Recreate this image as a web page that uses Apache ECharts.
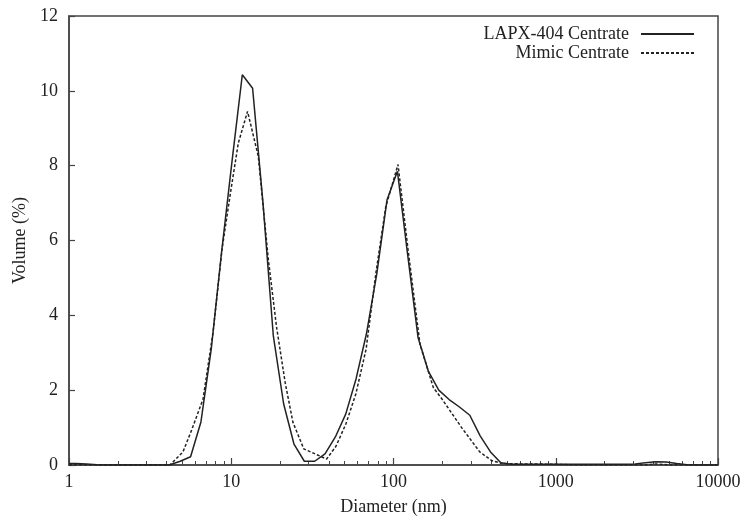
<!DOCTYPE html>
<html>
<head>
<meta charset="utf-8">
<script src="https://cdn.jsdelivr.net/npm/echarts@6/dist/echarts.min.js"></script>
<style>html,body{margin:0;padding:0;background:#fff;}#c{width:745px;height:521px;}</style>
</head>
<body>
<div id="c"></div>
<script>
// Diameter (nm) and Volume (%) for LAPX-404 Centrate (solid)
const lapxDiameter = [1.0, 1.106, 1.281, 1.484, 1.718, 4.145, 4.849, 5.615, 6.503, 7.531, 8.721, 10.1, 11.7, 13.54, 15.69, 18.17, 21.04, 24.36, 28.21, 32.67, 37.84, 43.82, 50.75, 58.77, 68.06, 78.82, 91.28, 105.7, 122.4, 141.8, 164.2, 190.1, 220.2, 255.0, 295.3, 342.0, 396.1, 458.7, 531.2, 1000, 2669, 3091, 3580, 4145, 4801, 5560, 6439, 7456, 10000];
const lapxVolume   = [0.04, 0.04, 0.03, 0.01, 0.0, 0.0, 0.1, 0.22, 1.15, 3.1, 5.7, 8.1, 10.43, 10.07, 7.0, 3.45, 1.63, 0.56, 0.1, 0.1, 0.3, 0.75, 1.36, 2.3, 3.5, 5.1, 7.09, 7.85, 5.6, 3.4, 2.5, 2.0, 1.75, 1.55, 1.33, 0.78, 0.35, 0.06, 0.02, 0.02, 0.02, 0.03, 0.06, 0.09, 0.08, 0.04, 0.01, 0.0, 0.0];
// Diameter (nm) and Volume (%) for Mimic Centrate (dashed)
const mimicDiameter = [1.0, 4.19, 5.04, 5.73, 6.7, 7.72, 8.77, 9.83, 11.05, 12.6, 14.68, 16.92, 19.0, 21.5, 24.0, 28.0, 38.7, 44.2, 50.9, 58.6, 67.8, 78.3, 89.6, 106.6, 122.9, 145.6, 176.0, 200.0, 263.0, 340.0, 402.0, 465.0, 600.0, 1000, 1300, 3500, 4200, 5000, 10000];
const mimicVolume   = [0.0, 0.0, 0.35, 0.96, 1.76, 3.54, 5.76, 7.2, 8.6, 9.45, 8.25, 5.5, 3.7, 2.2, 1.14, 0.43, 0.16, 0.5, 1.1, 1.9, 3.1, 5.2, 6.9, 8.03, 5.76, 3.23, 2.07, 1.75, 1.0, 0.35, 0.12, 0.04, 0.03, 0.02, 0.0, 0.0, 0.03, 0.0, 0.0];
const seriesNames = ['LAPX-404 Centrate', 'Mimic Centrate'];
const xMajorTicks = [1, 10, 100, 1000, 10000];
const xMinorTicks = [2,3,4,5,6,7,8,9, 20,30,40,50,60,70,80,90, 200,300,400,500,600,700,800,900, 2000,3000,4000,5000,6000,7000,8000,9000];
const yTicks = [0, 2, 4, 6, 8, 10, 12];

const FONT = "'Liberation Serif', 'Times New Roman', serif";
const INK = '#222';
const AX = '#444';

const pairs = (xs, ys) => xs.map((x, i) => [x, ys[i]]);

const legendCommon = {
  right: 50, padding: 0, align: 'right', orient: 'vertical', itemWidth: 53, itemHeight: 12, selectedMode: false,
  itemStyle: {opacity: 0, color: 'transparent', borderWidth: 0},
  textStyle: {fontFamily: FONT, fontSize: 18, color: INK, padding: [0, 7, 0, 0]}
};

const chart = echarts.init(document.getElementById('c'), null, {renderer: 'canvas'});
chart.setOption({
  backgroundColor: '#fff',
  animation: false,
  textStyle: {fontFamily: FONT, color: INK},
  grid: {left: 69, right: 27, top: 16, bottom: 55, show: true, borderColor: AX, borderWidth: 1.5, backgroundColor: 'transparent'},
  legend: [
    Object.assign({}, legendCommon, {data: [seriesNames[0]], top: 25}),
    Object.assign({}, legendCommon, {data: [seriesNames[1]], top: 44})
  ],
  xAxis: [
    {type: 'log', logBase: 10, min: 1, max: 10000, position: 'bottom',
     name: 'Diameter (nm)', nameLocation: 'middle', nameGap: 33,
     nameTextStyle: {fontFamily: FONT, fontSize: 18, color: INK},
     axisLine: {show: true, lineStyle: {color: AX, width: 1.5}},
     axisTick: {show: true, inside: true, length: 7, lineStyle: {color: AX, width: 1.2}, customValues: xMajorTicks},
     axisLabel: {fontFamily: FONT, fontSize: 18, color: INK, margin: 8, customValues: xMajorTicks, formatter: v => String(Math.round(v))},
     splitLine: {show: false}, minorTick: {show: false}},
    {type: 'log', logBase: 10, min: 1, max: 10000, position: 'bottom',
     axisLine: {show: false},
     axisTick: {show: true, inside: true, length: 4, lineStyle: {color: AX, width: 1}, customValues: xMinorTicks},
     axisLabel: {show: false},
     splitLine: {show: false}}
  ],
  yAxis: {type: 'value', min: 0, max: 12, interval: 2,
    name: 'Volume (%)', nameLocation: 'middle', nameGap: 35,
    nameTextStyle: {fontFamily: FONT, fontSize: 18, color: INK},
    axisLine: {show: true, lineStyle: {color: AX, width: 1.5}},
    axisTick: {show: true, inside: true, length: 6, lineStyle: {color: AX, width: 1.2}},
    axisLabel: {fontFamily: FONT, fontSize: 18, color: INK, margin: 11, customValues: yTicks},
    splitLine: {show: false}},
  series: [
    {name: seriesNames[0], type: 'line', xAxisIndex: 0, data: pairs(lapxDiameter, lapxVolume),
     symbol: 'none', lineStyle: {color: INK, width: 1.5, type: 'solid'}, itemStyle: {color: INK}},
    {name: seriesNames[1], type: 'line', xAxisIndex: 0, data: pairs(mimicDiameter, mimicVolume),
     symbol: 'none', lineStyle: {color: INK, width: 1.5, type: [3, 2]}, itemStyle: {color: INK}}
  ]
});
</script>
</body>
</html>
